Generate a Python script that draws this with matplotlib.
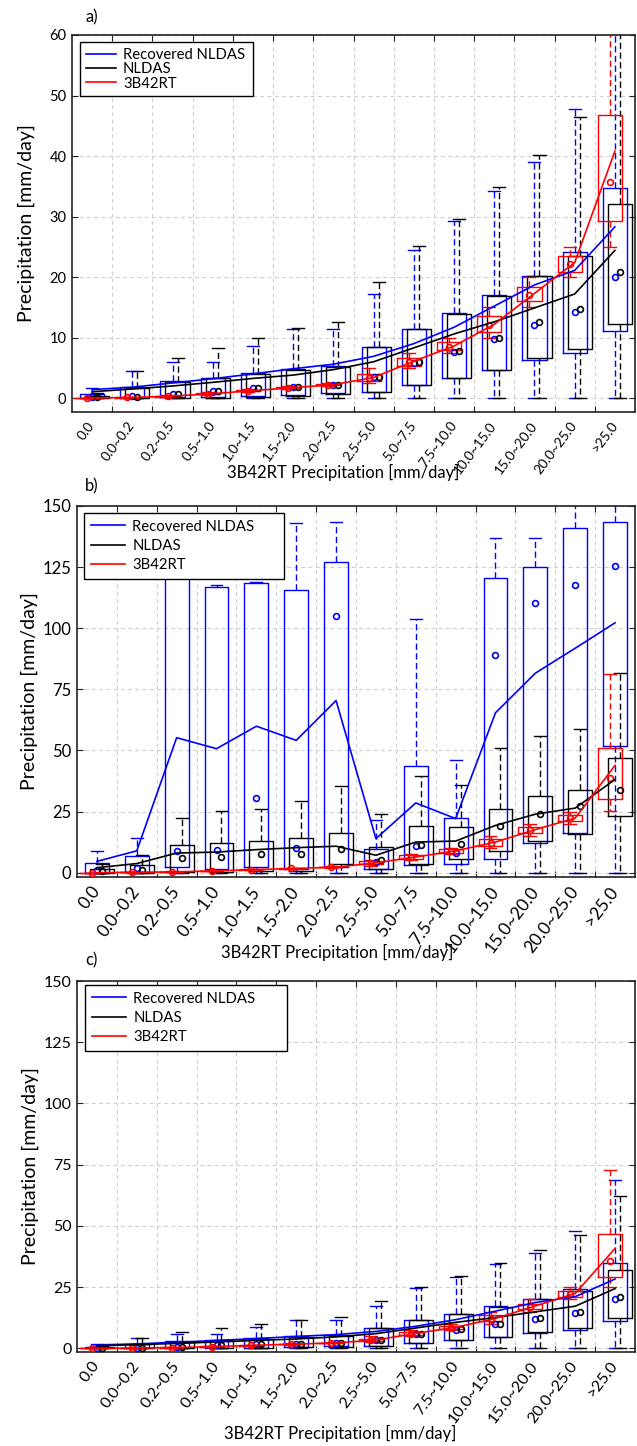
import matplotlib
matplotlib.use("Agg")
import matplotlib.pyplot as plt
import matplotlib.transforms as mtransforms
import numpy as np

plt.rcParams['font.family'] = ['Lato', 'DejaVu Sans']

# ---------------- categories ----------------
categories = ["0.0", "0.0~0.2", "0.2~0.5", "0.5~1.0", "1.0~1.5", "1.5~2.0", "2.0~2.5",
              "2.5~5.0", "5.0~7.5", "7.5~10.0", "10.0~15.0", "15.0~20.0", "20.0~25.0", ">25.0"]
series_names = ["Recovered NLDAS", "NLDAS", "3B42RT"]

# ---------------- dataset 1 (panels a and c) ----------------
# Recovered NLDAS
d1_blue_q1 = [0, 0.05, 0.1, 0.15, 0.3, 0.5, 0.8, 1.0, 2.1, 3.3, 4.6, 6.3, 7.5, 11.1]
d1_blue_q3 = [0.66, 1.8, 2.8, 3.4, 4.2, 4.85, 5.3, 8.4, 11.4, 14.0, 17.1, 20.1, 24.1, 34.7]
d1_blue_lo = [0, 0, 0, 0, 0, 0, 0, 0, 0, 0, 0, 0, 0, 0]
d1_blue_hi = [1.65, 4.4, 5.9, 5.9, 8.6, 11.4, 11.4, 17.2, 24.5, 29.2, 34.3, 39.0, 47.8, 68.8]
d1_blue_med = [0.2, 0.3, 0.7, 1.2, 1.65, 1.9, 2.2, 3.5, 5.8, 7.6, 9.75, 12.1, 14.3, 20.0]
d1_blue_mean = [1.4, 1.8, 2.5, 3.2, 4.0, 4.85, 5.6, 6.9, 9.0, 11.7, 15.2, 18.7, 21.1, 28.3]
# NLDAS
d1_black_q1 = [0, 0, 0, 0.05, 0.2, 0.4, 0.7, 1.0, 2.2, 3.4, 4.7, 6.6, 8.1, 12.2]
d1_black_q3 = [0.4, 1.65, 2.7, 3.25, 4.0, 4.7, 5.2, 8.4, 11.4, 13.9, 16.8, 20.1, 23.4, 32.0]
d1_black_lo = [0, 0, 0, 0, 0, 0, 0, 0, 0, 0, 0, 0, 0, 0]
d1_black_hi = [0.8, 4.4, 6.7, 8.3, 10.0, 11.5, 12.6, 19.2, 25.1, 29.6, 34.9, 40.2, 46.4, 62.0]
d1_black_med = [0.1, 0.2, 0.7, 1.2, 1.65, 1.9, 2.2, 3.5, 5.9, 7.8, 9.9, 12.5, 14.7, 20.9]
d1_black_mean = [1.05, 1.5, 2.0, 2.6, 3.25, 3.8, 4.7, 6.0, 8.3, 10.6, 12.6, 14.9, 17.2, 24.4]
# 3B42RT
d1_red_q1 = [0, 0.05, 0.25, 0.6, 1.1, 1.6, 2.1, 2.9, 5.3, 7.9, 11.0, 16.0, 20.9, 29.3]
d1_red_q3 = [0, 0.15, 0.4, 0.85, 1.35, 1.85, 2.35, 4.0, 6.7, 9.2, 13.5, 18.3, 23.4, 46.8]
d1_red_lo = [0, 0.01, 0.2, 0.5, 1.0, 1.5, 2.0, 2.5, 5.0, 7.5, 10.0, 15.0, 20.0, 25.0]
d1_red_hi = [0, 0.2, 0.5, 1.0, 1.5, 2.0, 2.5, 5.0, 7.5, 10.0, 15.0, 20.0, 25.0, 73.0]
d1_red_med = [0, 0.1, 0.3, 0.7, 1.2, 1.7, 2.2, 3.3, 6.0, 8.5, 12.0, 17.0, 22.2, 35.7]
d1_red_mean = [0, 0.1, 0.33, 0.73, 1.23, 1.72, 2.22, 3.4, 6.1, 8.6, 12.2, 17.3, 22.4, 40.8]

# ---------------- dataset 2 (panel b) ----------------
d2_blue_q1 = [0, 0.2, 2.3, 1.6, 2.3, 1.5, 2.3, 1.6, 3.0, 3.7, 5.4, 12.3, 16.3, 52.0]
d2_blue_q3 = [4.0, 6.7, 135.0, 117.0, 118.5, 115.8, 127.0, 9.8, 43.5, 22.3, 120.6, 125.2, 141.0, 143.3]
d2_blue_lo = [0, 0, 0, 0, 0, 0, 0, 0, 0, 0, 0, 0, 0, 0]
d2_blue_hi = [8.7, 14.2, 142.0, 117.8, 118.8, 143.1, 143.3, 21.4, 103.8, 46.2, 136.8, 136.8, 170.0, 170.0]
d2_blue_med = [1.0, 1.9, 8.9, 9.1, 30.7, 10.1, 104.9, 4.4, 11.0, 8.0, 89.2, 110.2, 117.7, 125.6]
d2_blue_mean = [4.6, 8.9, 55.2, 50.7, 59.9, 54.1, 70.4, 13.9, 28.5, 22.1, 65.4, 81.6, 91.8, 102.2]
d2_black_q1 = [0, 0, 0.3, 0.3, 0.5, 0.5, 3.4, 1.6, 3.7, 5.4, 8.7, 12.8, 15.7, 23.2]
d2_black_q3 = [1.6, 3.3, 11.2, 12.1, 12.9, 14.2, 16.3, 10.5, 18.9, 18.7, 26.2, 31.2, 33.7, 47.0]
d2_black_lo = [0, 0, 0, 0, 0, 0, 0, 0, 0, 0, 0, 0, 0, 0]
d2_black_hi = [3.5, 7.0, 22.5, 25.1, 26.2, 29.2, 35.3, 23.8, 39.4, 35.7, 51.1, 55.9, 58.9, 81.6]
d2_black_med = [0.7, 1.2, 6.1, 6.4, 7.8, 7.5, 9.8, 5.0, 11.2, 11.6, 19.1, 23.8, 27.1, 33.7]
d2_black_mean = [2.0, 3.7, 8.0, 8.4, 9.4, 10.2, 10.8, 7.1, 12.5, 12.9, 19.3, 23.9, 26.4, 38.1]
d2_red_q1 = [0, 0.05, 0.25, 0.6, 1.1, 1.6, 2.1, 3.4, 5.4, 8.2, 10.9, 16.2, 21.0, 30.2]
d2_red_q3 = [0, 0.15, 0.4, 0.85, 1.35, 1.85, 2.35, 4.6, 7.1, 9.8, 13.9, 18.7, 23.4, 51.1]
d2_red_lo = [0, 0.01, 0.2, 0.5, 1.0, 1.5, 2.0, 2.5, 5.0, 7.5, 10.0, 15.0, 20.0, 25.2]
d2_red_hi = [0, 0.2, 0.5, 1.0, 1.5, 2.0, 2.5, 5.0, 7.5, 10.0, 15.0, 20.0, 25.0, 81.3]
d2_red_med = [0, 0.1, 0.3, 0.7, 1.2, 1.7, 2.2, 3.9, 6.2, 8.8, 12.3, 17.4, 22.2, 38.7]
d2_red_mean = [0, 0.1, 0.33, 0.73, 1.23, 1.72, 2.22, 4.0, 6.4, 8.9, 12.5, 17.6, 22.3, 43.9]

BLUE, BLACK, RED = '#0000ff', '#000000', '#ff0000'

dataset1 = [
    (BLUE, 0.0, d1_blue_q1, d1_blue_q3, d1_blue_lo, d1_blue_hi, d1_blue_med, d1_blue_mean),
    (BLACK, 0.125, d1_black_q1, d1_black_q3, d1_black_lo, d1_black_hi, d1_black_med, d1_black_mean),
    (RED, -0.125, d1_red_q1, d1_red_q3, d1_red_lo, d1_red_hi, d1_red_med, d1_red_mean),
]
dataset2 = [
    (BLUE, 0.0, d2_blue_q1, d2_blue_q3, d2_blue_lo, d2_blue_hi, d2_blue_med, d2_blue_mean),
    (BLACK, 0.125, d2_black_q1, d2_black_q3, d2_black_lo, d2_black_hi, d2_black_med, d2_black_mean),
    (RED, -0.125, d2_red_q1, d2_red_q3, d2_red_lo, d2_red_hi, d2_red_med, d2_red_mean),
]

W, H = 637, 1446
fig = plt.figure(figsize=(W / 100, H / 100), dpi=100)


def px_axes(l, r, t, b):
    return fig.add_axes([l / W, 1 - b / H, (r - l) / W, (b - t) / H])


def draw_panel(ax, data, ylim, yticks, ytick_fs, xtick_fs, lab_dx, legend_cfg):
    x = np.arange(1, len(categories) + 1)
    handles = []
    for color, off, q1, q3, lo, hi, med, mean in data:
        stats = [dict(q1=a, q3=b, whislo=c, whishi=d, med=e, mean=f, fliers=[])
                 for a, b, c, d, e, f in zip(q1, q3, lo, hi, med, mean)]
        ax.bxp(stats, positions=x + off, widths=0.6, capwidths=0.3,
               showfliers=False, manage_ticks=False,
               boxprops=dict(color=color, lw=1.0),
               whiskerprops=dict(color=color, lw=1.0, linestyle=(0, (4.5, 2.5))),
               capprops=dict(color=color, lw=1.0),
               medianprops=dict(linestyle='none'))
    for color, off, q1, q3, lo, hi, med, mean in data:
        ax.plot(x + off, med, 'o', ms=4.2, mfc='none', mec=color, mew=1.2, zorder=3)
    for (color, off, q1, q3, lo, hi, med, mean), name in zip(data, series_names):
        h, = ax.plot(x, mean, '-', color=color, lw=1.2, zorder=3, label=name)
        handles.append(h)

    ax.set_xlim(0.5, len(categories) + 0.5)
    ax.set_ylim(*ylim)
    ax.set_yticks(yticks)
    ax.set_yticklabels([str(v) for v in yticks], fontsize=ytick_fs)
    ax.set_xticks(x)
    ax.set_xticklabels(categories, rotation=53, ha='right', va='center',
                       rotation_mode='anchor', fontsize=xtick_fs)
    offs = mtransforms.ScaledTranslation(lab_dx / 100, 0, fig.dpi_scale_trans)
    for lab in ax.get_xticklabels():
        lab.set_transform(lab.get_transform() + offs)
    ax.set_xticks(np.arange(1.5, len(categories), 1.0), minor=True)
    ax.tick_params(axis='x', which='major', length=0, pad=8)
    ax.tick_params(axis='x', which='minor', direction='in', length=4, top=True,
                   bottom=True, width=0.8, color='#222222')
    ax.tick_params(axis='y', which='major', direction='in', length=4, left=True,
                   right=True, width=0.8, color='#222222', pad=4)
    ax.grid(True, which='minor', axis='x', color='#cfcfcf', linestyle=(0, (3.5, 3)), lw=0.8)
    ax.grid(True, which='major', axis='y', color='#cfcfcf', linestyle=(0, (3.5, 3)), lw=0.8)
    ax.set_axisbelow(True)
    for sp in ax.spines.values():
        sp.set_color('#222222')
        sp.set_linewidth(1.2)

    bx, by, bw, lsp, hl, bpad = legend_cfg
    leg = ax.legend(handles=handles, loc='upper left', bbox_to_anchor=(bx, by - 0.3, bw, 0.3),
                    mode='expand', borderaxespad=0, fontsize=10.7, frameon=True,
                    fancybox=False, framealpha=1, edgecolor='black', handlelength=hl,
                    handletextpad=0.5, labelspacing=lsp, borderpad=bpad)
    leg.get_frame().set_linewidth(1.0)
    leg.set_zorder(10)


# panel a
axa = px_axes(72, 635, 35, 412)
draw_panel(axa, dataset1, (-2.3, 60), [0, 10, 20, 30, 40, 50, 60], 10.5, 9.8, 0.03,
           (8 / 563, 1 - 7 / 377, 173 / 563, 0.02, 2.0, 0.4))
# panel b
axb = px_axes(77, 635, 506, 877)
draw_panel(axb, dataset2, (-1.8, 150), [0, 25, 50, 75, 100, 125, 150], 12.0, 12.5, -0.04,
           (7 / 558, 1 - 7 / 371, 200 / 558, 0.35, 2.3, 0.45))
# panel c
axc = px_axes(77, 635, 981, 1352)
draw_panel(axc, dataset1, (-1.5, 150), [0, 25, 50, 75, 100, 125, 150], 11.5, 11.5, 0.0,
           (8 / 558, 1 - 4 / 371, 202 / 558, 0.35, 2.3, 0.45))

xlab = "3B42RT Precipitation [mm/day]"
ylab = "Precipitation [mm/day]"
for ax, (xl_x, xl_y), yl_x, plab, plab_y in [
        (axa, (343, 472), 26, "a)", 17),
        (axb, (337, 952), 29, "b)", 486),
        (axc, (340, 1433), 30, "c)", 960)]:
    ax.set_xlabel(xlab, fontsize=12)
    ax.xaxis.label.set_va('center')
    ax.xaxis.set_label_coords(xl_x / W, 1 - xl_y / H, transform=fig.transFigure)
    ax.set_ylabel(ylab, fontsize=14)
    ax.yaxis.label.set_va('center')
    ax.yaxis.set_label_coords(yl_x / W, 0.5, transform=mtransforms.blended_transform_factory(fig.transFigure, ax.transAxes))
    fig.text(85 / W, 1 - plab_y / H, plab, fontsize=12, ha='left', va='center')

fig.savefig("out.png", dpi=100)
